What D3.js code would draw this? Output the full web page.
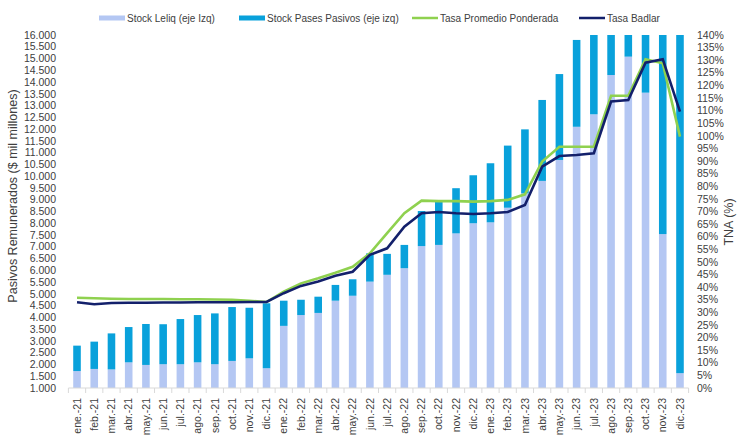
<!DOCTYPE html>
<html>
<head>
<meta charset="utf-8">
<script src="https://cdn.jsdelivr.net/npm/d3@7"></script>
<style>
  body { margin: 0; background: #fff; }
  text { font-family: "Liberation Sans Narrow", "Liberation Sans", Arial, sans-serif; fill: #404040; }
</style>
</head>
<body>
<div id="chart"></div>
<script>
// categorias (meses)
var months = ["ene.-21","feb.-21","mar.-21","abr.-21","may.-21","jun.-21","jul.-21","ago.-21","sep.-21","oct.-21","nov.-21","dic.-21",
  "ene.-22","feb.-22","mar.-22","abr.-22","may.-22","jun.-22","jul.-22","ago.-22","sep.-22","oct.-22","nov.-22","dic.-22",
  "ene.-23","feb.-23","mar.-23","abr.-23","may.-23","jun.-23","jul.-23","ago.-23","sep.-23","oct.-23","nov.-23","dic.-23"];

// stock leliq ($ mil millones)
var leliq = [1720,1810,1790,2090,1980,2010,2010,2090,2010,2150,2260,1840,
  3640,4100,4190,4710,4920,5520,5810,6090,7030,7080,7570,8000,
  8040,8660,9270,9800,10690,12100,12630,14300,15080,13550,7540,1630];

// stock pases pasivos ($ mil millones)
var pases = [1080,1160,1530,1500,1740,1700,1920,2010,2160,2290,2150,2760,
  1070,650,690,670,700,1200,890,990,1490,1840,1920,2040,
  2510,2640,2720,3440,3650,3690,4370,3200,2900,4650,10960,17370];

// tasas (%)
var tasaPromedio = [35.8,35.6,35.4,35.3,35.3,35.3,35.2,35.2,35.1,35.0,34.6,34.1,
  38.2,41.5,43.5,45.7,48.1,53.4,61.4,69.3,74.3,74.1,74.1,73.9,
  74.1,74.6,76.8,89.8,95.7,95.7,95.7,115.9,115.9,130.4,128.8,99.7];
var tasaBadlar = [34.0,33.2,33.7,33.8,33.8,33.9,33.9,34.0,34.0,34.0,34.1,34.1,
  37.6,40.5,42.2,44.5,46.1,52.8,55.4,64.0,69.3,69.8,69.3,69.0,
  69.3,69.8,72.6,87.8,92.0,92.4,93.1,113.6,114.2,129.0,130.4,109.6];

var leftTicks = d3.range(1000, 16001, 500);
var rightTicks = d3.range(0, 141, 5);

var width = 739, height = 439;
var cLeliq = "#b4c7f3", cPases = "#09a1db", cProm = "#8fd14f", cBadlar = "#13206b";

var svg = d3.select("#chart").append("svg")
  .attr("width", width)
  .attr("height", height);

var x = d3.scaleBand().domain(months).range([68.4, 688.6])
  .paddingInner(0.56).paddingOuter(0.28);
var y = d3.scaleLinear().domain([1000, 16000]).range([388, 35]);
var y2 = d3.scaleLinear().domain([0, 140]).range([388, 35]);

var loc = d3.formatLocale({decimal: ",", thousands: ".", grouping: [3], currency: ["$", ""]});
var fmt = loc.format(",.0f");

svg.append("defs").append("clipPath").attr("id", "plot")
  .append("rect").attr("x", 60).attr("y", 35).attr("width", 640).attr("height", 353);

// barras apiladas
var rows = months.map(function(m, i) { return {m: m, leliq: leliq[i], pases: pases[i]}; });
var stack = d3.stack().keys(["leliq", "pases"])(rows);
var colors = {leliq: cLeliq, pases: cPases};

svg.append("g").attr("clip-path", "url(#plot)")
  .selectAll("g").data(stack).enter().append("g")
  .attr("fill", function(d) { return colors[d.key]; })
  .selectAll("rect").data(function(d) { return d; }).enter().append("rect")
  .attr("x", function(d) { return x(d.data.m); })
  .attr("width", x.bandwidth())
  .attr("y", function(d) { return y(d[1]); })
  .attr("height", function(d) { return y(d[0]) - y(d[1]); });

// eje x
var xAxis = svg.append("g").attr("transform", "translate(0,388)");
xAxis.append("line").attr("x1", 68.4).attr("x2", 688.6)
  .attr("stroke", "#d9d9d9").attr("stroke-width", 1);
xAxis.selectAll("line.tk").data(d3.range(months.length + 1)).enter().append("line")
  .attr("class", "tk")
  .attr("x1", function(i) { return 68.4 + i * x.step(); })
  .attr("x2", function(i) { return 68.4 + i * x.step(); })
  .attr("y1", 0).attr("y2", 5)
  .attr("stroke", "#d9d9d9");
xAxis.selectAll("text").data(months).enter().append("text")
  .attr("transform", function(d) { return "translate(" + (x(d) + x.bandwidth() / 2) + ",10) rotate(-90)"; })
  .attr("text-anchor", "end")
  .attr("dy", "0.35em")
  .style("font-size", "10.5px")
  .text(function(d) { return d; });

// eje izquierdo
svg.append("g").selectAll("text").data(leftTicks).enter().append("text")
  .attr("x", 56).attr("y", function(d) { return y(d); })
  .attr("dy", "0.35em")
  .attr("text-anchor", "end")
  .style("font-size", "10.5px")
  .text(function(d) { return fmt(d); });

// eje derecho
svg.append("g").selectAll("text").data(rightTicks).enter().append("text")
  .attr("x", 697).attr("y", function(d) { return y2(d); })
  .attr("dy", "0.35em")
  .style("font-size", "10.5px")
  .text(function(d) { return d + "%"; });

svg.append("text")
  .attr("transform", "translate(17,196) rotate(-90)")
  .attr("text-anchor", "middle")
  .style("font-size", "12.5px")
  .text("Pasivos Remunerados  ($ mil millones)");

svg.append("text")
  .attr("transform", "translate(733,222) rotate(-90)")
  .attr("text-anchor", "middle")
  .style("font-size", "12.5px")
  .text("TNA (%)");

// lineas de tasas
var line = function(vals) {
  return d3.line()
    .x(function(d, i) { return x(months[i]) + x.bandwidth() / 2; })
    .y(function(d) { return y2(d); })(vals);
};
svg.append("path").attr("d", line(tasaPromedio))
  .attr("fill", "none").attr("stroke", cProm).attr("stroke-width", 2.6);
svg.append("path").attr("d", line(tasaBadlar))
  .attr("fill", "none").attr("stroke", cBadlar).attr("stroke-width", 2.6);

// leyenda
var legend = [
  {label: "Stock Leliq (eje Izq)", color: cLeliq, type: "bar", x: 99},
  {label: "Stock Pases Pasivos (eje izq)", color: cPases, type: "bar", x: 239},
  {label: "Tasa Promedio Ponderada", color: cProm, type: "line", x: 412},
  {label: "Tasa Badlar", color: cBadlar, type: "line", x: 579}
];
var lg = svg.append("g").selectAll("g").data(legend).enter().append("g")
  .attr("transform", function(d) { return "translate(" + d.x + ",18)"; });
lg.append("rect")
  .attr("x", 0).attr("width", 26)
  .attr("y", function(d) { return d.type == "bar" ? -2.5 : -1.25; })
  .attr("height", function(d) { return d.type == "bar" ? 5 : 2.5; })
  .attr("fill", function(d) { return d.color; });
lg.append("text")
  .attr("x", 28).attr("dy", "0.35em")
  .style("font-size", "10px")
  .text(function(d) { return d.label; });
</script>
</body>
</html>
